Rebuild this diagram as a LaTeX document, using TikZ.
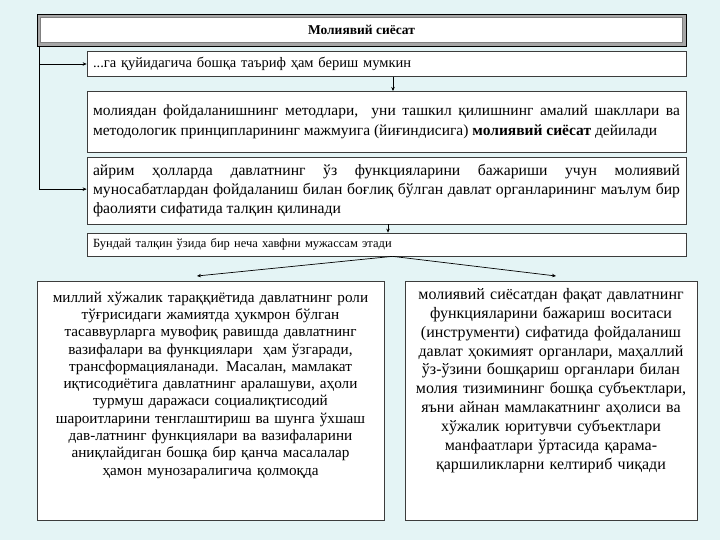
\documentclass[tikz,border=0pt]{standalone}
\usepackage{fontspec}
\setmainfont{Liberation Serif}
\usetikzlibrary{arrows.meta,positioning}
\definecolor{slidebg}{HTML}{E4F4F5}
\definecolor{boxframe}{HTML}{3C3C3C}
\definecolor{bevelgray}{HTML}{A6A6A6}

\begin{document}
\begin{tikzpicture}[
    x=1pt, y=-1pt,
    >={Stealth[length=4pt,width=3.5pt]},
    box/.style={
        rectangle,
        draw=boxframe,
        fill=white,
        line width=0.7pt,
        inner xsep=6pt,
        inner ysep=0pt
    },
    arrow/.style={->, line width=0.7pt, black}
]
    % background
    \fill[slidebg] (0,0) rectangle (720,540);
    \useasboundingbox (0,0) rectangle (720,540);

    % === TITLE (bevelled frame) ===
    \node[rectangle, draw=black, fill=bevelgray, line width=0.9pt,
          minimum width=649pt, minimum height=32pt] (titleframe) at (361.5,30) {};
    \node[rectangle, draw=gray, fill=white, line width=0.5pt,
          minimum width=642pt, minimum height=25pt,
          font=\fontsize{13.5}{15}\selectfont\bfseries] (title) at (titleframe) {Молиявий сиёсат};

    % === DEFINITION BOXES ===
    \node[box, minimum width=599pt, minimum height=25pt, text width=587pt, align=left,
          font=\fontsize{14.5}{16}\selectfont] (other) at (386.5,64)
        {...га қуйидагича бошқа таъриф ҳам бериш мумкин};

    \node[box, minimum width=599pt, minimum height=61pt, text width=587pt, align=justify,
          anchor=north, inner ysep=4pt,
          font=\fontsize{15.5}{20}\selectfont] (methods) at (386.5,91)
        {молиядан фойдаланишнинг методлари,\ \ уни ташкил қилишнинг амалий шакллари ва\linebreak
         методологик принципларининг мажмуига (йиғиндисига) \textbf{молиявий сиёсат} дейилади};

    \node[box, minimum width=599pt, minimum height=63pt, text width=587pt, align=justify,
          anchor=north, inner ysep=7pt,
          font=\fontsize{15.7}{19}\selectfont] (organs) at (386.5,157)
        {айрим ҳолларда давлатнинг ўз функцияларини бажариши учун молиявий\linebreak
         муносабатлардан фойдаланиш билан боғлиқ бўлган давлат органларининг маълум бир\linebreak
         фаолияти сифатида талқин қилинади};

    \node[box, minimum width=599pt, minimum height=23pt, text width=587pt, align=left,
          font=\fontsize{12.5}{14}\selectfont] (risks) at (386.5,244.5)
        {Бундай талқин ўзида бир неча хавфни мужассам этади};

    % === RISK DETAIL BOXES ===
    \node[box, minimum width=347pt, minimum height=239pt, anchor=north] (economy) at (210.5,281) {};
    \node[anchor=north, inner sep=0pt, text width=341pt, align=center,
          font=\fontsize{15.2}{17.3}\selectfont] (economytext) at ([yshift=-10.5pt]economy.north)
        {миллий хўжалик тараққиётида давлатнинг роли\\
         тўғрисидаги жамиятда ҳукмрон бўлган\\
         тасаввурларга мувофиқ равишда давлатнинг\\
         вазифалари ва функциялари\ \ ҳам ўзгаради,\\
         трансформацияланади. Масалан, мамлакат\\
         иқтисодиётига давлатнинг аралашуви, аҳоли\\
         турмуш даражаси социалиқтисодий\\
         шароитларини тенглаштириш ва шунга ўхшаш\\
         дав-латнинг функциялари ва вазифаларини\\
         аниқлайдиган бошқа бир қанча масалалар\\
         ҳамон мунозаралигича қолмоқда};

    \node[box, minimum width=292pt, minimum height=239pt, anchor=north] (instrument) at (551,281) {};
    \node[anchor=north, inner sep=0pt, text width=286pt, align=center,
          font=\fontsize{16}{18.9}\selectfont] (instrumenttext) at ([yshift=-7pt]instrument.north)
        {молиявий сиёсатдан фақат давлатнинг\\
         функцияларини бажариш воситаси\\
         (инструменти) сифатида фойдаланиш\\
         давлат ҳокимият органлари, маҳаллий\\
         ўз-ўзини бошқариш органлари билан\\
         молия тизимининг бошқа субъектлари,\\
         яъни айнан мамлакатнинг аҳолиси ва\\
         хўжалик юритувчи субъектлари\\
         манфаатлари ўртасида қарама-\\
         қаршиликларни келтириб чиқади};

    % === CONNECTORS ===
    \coordinate (trunk) at ([xshift=3pt]titleframe.south west);
    \draw[arrow] (trunk) |- (other.west);
    \draw[arrow] (trunk) |- ([yshift=1.5pt]organs.west);
    \draw[arrow] ([xshift=6.5pt]other.south) -- ([xshift=6.5pt]methods.north);
    \draw[arrow] ([xshift=1.5pt]organs.south) -- ([xshift=1.5pt]risks.north);
    \draw[arrow] ([xshift=6pt]risks.south) -- ([xshift=-13.5pt,yshift=5pt]economy.north);
    \draw[arrow] ([xshift=6pt]risks.south) -- ([xshift=5pt,yshift=5pt]instrument.north);
\end{tikzpicture}
\end{document}
